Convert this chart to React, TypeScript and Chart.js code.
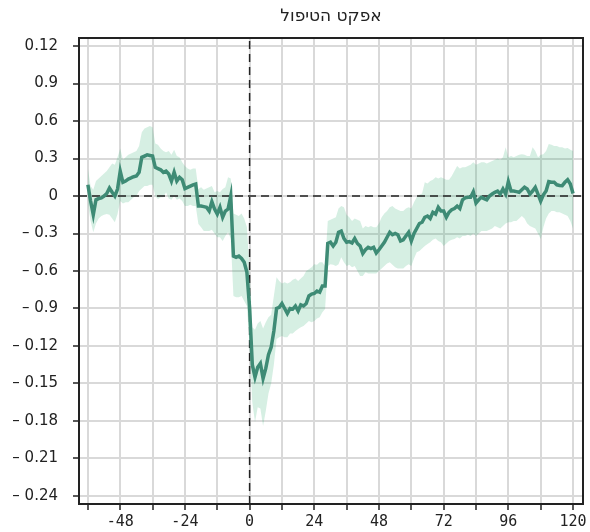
import React, { useEffect, useRef } from "react";
import { Chart, registerables } from "chart.js";

Chart.register(...registerables);

const TITLE = "אפקט הטיפול";

const HOURS = [
  -60, -59, -58, -57, -56, -55, -54, -53, -52, -51, -50, -49, -48, -47, -46, -45, -44, -43, -42, -41,
  -40, -39, -38, -37, -36, -35, -34, -33, -32, -31, -30, -29, -28, -27, -26, -25, -24, -23, -22, -21,
  -20, -19, -18, -17, -16, -15, -14, -13, -12, -11, -10, -9, -8, -7, -6, -5, -4, -3, -2, -1,
  0, 1, 2, 3, 4, 5, 6, 7, 8, 9, 10, 11, 12, 13, 14, 15, 16, 17, 18, 19,
  20, 21, 22, 23, 24, 25, 26, 27, 28, 29, 30, 31, 32, 33, 34, 35, 36, 37, 38, 39,
  40, 41, 42, 43, 44, 45, 46, 47, 48, 49, 50, 51, 52, 53, 54, 55, 56, 57, 58, 59,
  60, 61, 62, 63, 64, 65, 66, 67, 68, 69, 70, 71, 72, 73, 74, 75, 76, 77, 78, 79,
  80, 81, 82, 83, 84, 85, 86, 87, 88, 89, 90, 91, 92, 93, 94, 95, 96, 97, 98, 99,
  100, 101, 102, 103, 104, 105, 106, 107, 108, 109, 110, 111, 112, 113, 114, 115, 116, 117, 118, 119,
  120,
];

const EFFECT = [
  0.09, -0.04, -0.15, -0.03, -0.02, -0.015, 0.0, 0.02, 0.064, 0.03, 0.0, 0.056, 0.2, 0.11, 0.12, 0.136, 0.145, 0.155, 0.16, 0.19,
  0.31, 0.32, 0.33, 0.325, 0.32, 0.23, 0.22, 0.21, 0.19, 0.2, 0.176, 0.12, 0.19, 0.12, 0.15, 0.13, 0.06, 0.07, 0.08, 0.09,
  0.096, -0.08, -0.08, -0.085, -0.09, -0.12, -0.045, -0.104, -0.144, -0.09, -0.17, -0.12, -0.104, 0.0, -0.48, -0.49, -0.48, -0.5, -0.53, -0.61,
  -0.9, -1.35, -1.45, -1.37, -1.34, -1.46, -1.38, -1.27, -1.21, -1.08, -0.9, -0.89, -0.86, -0.9, -0.94, -0.9, -0.905, -0.88, -0.92, -0.87,
  -0.88, -0.86, -0.8, -0.785, -0.78, -0.76, -0.77, -0.72, -0.72, -0.38, -0.37, -0.4, -0.37, -0.29, -0.28, -0.34, -0.37, -0.365, -0.376, -0.34,
  -0.38, -0.4, -0.46, -0.43, -0.41, -0.42, -0.41, -0.456, -0.43, -0.4, -0.37, -0.33, -0.29, -0.31, -0.3, -0.31, -0.36, -0.35, -0.32, -0.29,
  -0.36, -0.3, -0.26, -0.22, -0.21, -0.17, -0.16, -0.18, -0.13, -0.144, -0.09, -0.12, -0.12, -0.17, -0.13, -0.11, -0.1, -0.08, -0.1, -0.03,
  -0.015, -0.01, -0.01, 0.034, -0.056, -0.03, -0.01, -0.02, -0.03, 0.0, 0.016, 0.03, 0.04, 0.016, 0.056, 0.016, 0.115, 0.04, 0.04, 0.035,
  0.03, 0.05, 0.07, 0.056, 0.016, 0.04, 0.07, 0.016, -0.04, 0.01, 0.04, 0.115, 0.11, 0.11, 0.09, 0.085, 0.083, 0.11, 0.13, 0.096,
  0.02,
];

const UPPER = [
  0.22, 0.08, 0.05, 0.12, 0.14, 0.16, 0.18, 0.2, 0.23, 0.26, 0.25, 0.31, 0.38, 0.29, 0.31, 0.33, 0.34, 0.35, 0.36, 0.4,
  0.51, 0.54, 0.55, 0.56, 0.55, 0.42, 0.41, 0.38, 0.36, 0.35, 0.36, 0.33, 0.37, 0.32, 0.31, 0.27, 0.24, 0.22, 0.21, 0.22,
  0.22, 0.056, 0.07, 0.05, 0.06, 0.07, 0.08, 0.03, 0.04, 0.03, 0.056, 0.07, 0.15, 0.14, -0.14, -0.15, -0.16, -0.14, -0.18, -0.25,
  -0.6, -1.05, -1.07, -1.02, -1.0, -1.06, -1.01, -0.97, -0.95, -0.8, -0.65, -0.68, -0.7, -0.69, -0.7, -0.69, -0.67, -0.66, -0.68, -0.66,
  -0.64, -0.6, -0.585, -0.57, -0.545, -0.55, -0.53, -0.53, -0.56, -0.2, -0.19, -0.18, -0.17, -0.1, -0.08, -0.09, -0.15, -0.17, -0.2, -0.18,
  -0.19, -0.2, -0.26, -0.24, -0.25, -0.24, -0.25, -0.25, -0.22, -0.17, -0.14, -0.12, -0.09, -0.08, -0.1, -0.11, -0.12, -0.12, -0.1, -0.09,
  -0.1, -0.05, -0.01, 0.01, 0.02, 0.11, 0.1, 0.12, 0.13, 0.15, 0.14, 0.15, 0.14, 0.13, 0.13, 0.16, 0.2, 0.24, 0.22, 0.23,
  0.23, 0.24, 0.25, 0.27, 0.25, 0.26, 0.27, 0.27, 0.26, 0.27, 0.28, 0.29, 0.3, 0.29, 0.31, 0.39, 0.31, 0.32, 0.31, 0.32,
  0.33, 0.335, 0.33, 0.32, 0.32, 0.39, 0.36, 0.31, 0.33, 0.335, 0.36, 0.416, 0.41, 0.4, 0.4, 0.39, 0.39, 0.38, 0.385, 0.37,
  0.36,
];

const LOWER = [
  -0.06, -0.2, -0.29, -0.22, -0.18, -0.16, -0.15, -0.144, -0.15, -0.18, -0.21, -0.144, -0.04, -0.06, -0.05, -0.05, -0.03, -0.01, 0.0, 0.04,
  0.06, 0.08, 0.08, 0.09, 0.09, 0.0, -0.024, -0.01, -0.01, 0.03, -0.02, -0.03, 0.0, -0.03, -0.02, -0.04, -0.08, -0.08, -0.07, -0.08,
  -0.08, -0.224, -0.25, -0.28, -0.28, -0.28, -0.27, -0.3, -0.33, -0.33, -0.36, -0.32, -0.29, -0.34, -0.8, -0.81, -0.81, -0.8, -0.84, -0.88,
  -1.2, -1.65, -1.81, -1.69, -1.7, -1.84, -1.72, -1.58, -1.5, -1.35, -1.145, -1.13, -1.12, -1.13, -1.13, -1.1, -1.1, -1.08, -1.065, -1.05,
  -1.04, -1.02, -1.0, -1.01, -1.0, -0.98, -0.97, -0.93, -0.905, -0.56, -0.545, -0.55, -0.56, -0.545, -0.49, -0.53, -0.56, -0.55, -0.57, -0.56,
  -0.6, -0.64, -0.64, -0.61, -0.62, -0.62, -0.62, -0.62, -0.6, -0.58, -0.56, -0.54, -0.53, -0.55, -0.57, -0.58, -0.58, -0.58, -0.56, -0.545,
  -0.56, -0.5, -0.45, -0.44, -0.42, -0.4, -0.384, -0.37, -0.35, -0.34, -0.36, -0.37, -0.4, -0.38, -0.36, -0.35, -0.344, -0.33, -0.34, -0.32,
  -0.32, -0.31, -0.32, -0.3, -0.32, -0.3, -0.28, -0.28, -0.28, -0.27, -0.26, -0.24, -0.25, -0.26, -0.24, -0.22, -0.21, -0.21, -0.2, -0.2,
  -0.18, -0.16, -0.18, -0.22, -0.24, -0.25, -0.26, -0.3, -0.344, -0.25, -0.18, -0.14, -0.12, -0.12, -0.13, -0.13, -0.14, -0.15, -0.16, -0.2,
  -0.26,
];

const X_TICKS = [-60, -48, -36, -24, -12, 0, 12, 24, 36, 48, 60, 72, 84, 96, 108, 120];
const X_LABELED = [-48, -24, 0, 24, 48, 72, 96, 120];
const Y_TICKS = [1.2, 0.9, 0.6, 0.3, 0, -0.3, -0.6, -0.9, -1.2, -1.5, -1.8, -2.1, -2.4];
const Y_LABELS = ["0.12", "0.9", "0.6", "0.3", "0", "– 0.3", "– 0.6", "– 0.9", "– 0.12", "– 0.15", "– 0.18", "– 0.21", "– 0.24"];

const X_MIN = -63.3;
const X_MAX = 123.7;
const Y_MIN = -2.465;
const Y_MAX = 1.265;

const LINE_COLOR = "rgb(62,139,117)";
const BAND_COLOR = "rgba(50,175,115,0.2)";
const INK = "#222222";
const GRID = "#d9d9d9";

const framePlugin = {
  id: "frame",
  afterDatasetsDraw(chart: any) {
    const { ctx, chartArea: a } = chart;
    ctx.save();
    ctx.strokeStyle = INK;
    ctx.lineWidth = 2;
    ctx.beginPath();
    ctx.moveTo(a.left, a.top);
    ctx.lineTo(a.right, a.top);
    ctx.lineTo(a.right, a.bottom);
    ctx.stroke();
    ctx.restore();
  },
};

export default function App() {
  const ref = useRef<HTMLCanvasElement | null>(null);

  useEffect(() => {
    if (!ref.current) return;
    const pts = (ys: number[]) => HOURS.map((h, i) => ({ x: h, y: ys[i] }));
    const chart = new Chart(ref.current, {
      type: "line",
      data: {
        datasets: [
          {
            label: "effect",
            data: pts(EFFECT),
            borderColor: LINE_COLOR,
            borderWidth: 3.5,
            pointRadius: 0,
            tension: 0,
            fill: false,
            order: 0,
          },
          {
            label: "zeroH",
            data: [
              { x: X_MIN, y: 0 },
              { x: X_MAX, y: 0 },
            ],
            borderColor: INK,
            borderWidth: 1.5,
            borderDash: [8, 5],
            pointRadius: 0,
            fill: false,
            order: 1,
          },
          {
            label: "zeroV",
            data: [
              { x: 0, y: Y_MIN },
              { x: 0, y: Y_MAX },
            ],
            borderColor: INK,
            borderWidth: 1.5,
            borderDash: [8, 5],
            pointRadius: 0,
            fill: false,
            order: 1,
          },
          {
            label: "upper",
            data: pts(UPPER),
            borderWidth: 0,
            borderColor: "rgba(0,0,0,0)",
            backgroundColor: BAND_COLOR,
            pointRadius: 0,
            tension: 0,
            fill: "+1",
            order: 3,
          },
          {
            label: "lower",
            data: pts(LOWER),
            borderWidth: 0,
            borderColor: "rgba(0,0,0,0)",
            backgroundColor: BAND_COLOR,
            pointRadius: 0,
            tension: 0,
            fill: false,
            order: 4,
          },
        ],
      },
      options: {
        animation: false,
        responsive: true,
        maintainAspectRatio: false,
        layout: { padding: { left: 0, right: 7, top: 0, bottom: 0 } },
        plugins: {
          legend: { display: false },
          tooltip: { enabled: false },
          title: {
            display: true,
            text: TITLE,
            fullSize: false,
            color: INK,
            font: { family: "'DejaVu Sans', sans-serif", size: 17, weight: "normal" },
            padding: { top: 6, bottom: 11.6 },
          },
        },
        scales: {
          x: {
            type: "linear",
            min: X_MIN,
            max: X_MAX,
            afterBuildTicks: (s: any) => {
              s.ticks = X_TICKS.map((v) => ({ value: v }));
            },
            afterFit: (s: any) => {
              s.height = 28;
            },
            ticks: {
              autoSkip: false,
              maxRotation: 0,
              padding: 3,
              color: INK,
              font: { family: "'DejaVu Sans Mono', monospace", size: 15 },
              callback: (v: any) => (X_LABELED.includes(Number(v)) ? String(v) : ""),
            },
            grid: {
              color: GRID,
              lineWidth: 2,
              tickColor: INK,
              tickLength: 6,
              tickWidth: 1.5,
            },
            border: { display: true, color: INK, width: 2 },
          },
          y: {
            type: "linear",
            min: Y_MIN,
            max: Y_MAX,
            afterBuildTicks: (s: any) => {
              s.ticks = [...Y_TICKS].sort((a, b) => a - b).map((v) => ({ value: v }));
            },
            afterFit: (s: any) => {
              s.width = 79;
            },
            ticks: {
              autoSkip: false,
              padding: 15,
              color: INK,
              font: { family: "'DejaVu Sans', sans-serif", size: 15 },
              callback: (v: any) => {
                const i = Y_TICKS.findIndex((t) => Math.abs(t - Number(v)) < 1e-6);
                return i >= 0 ? Y_LABELS[i] : "";
              },
            },
            grid: {
              color: GRID,
              lineWidth: 2,
              tickColor: INK,
              tickLength: 6,
              tickWidth: 1.5,
            },
            border: { display: true, color: INK, width: 2 },
          },
        },
      },
      plugins: [framePlugin],
    });
    return () => chart.destroy();
  }, []);

  return (
    <div style={{ position: "fixed", left: 0, top: 0, width: 590, height: 532, background: "#fff" }}>
      <canvas ref={ref} />
    </div>
  );
}
